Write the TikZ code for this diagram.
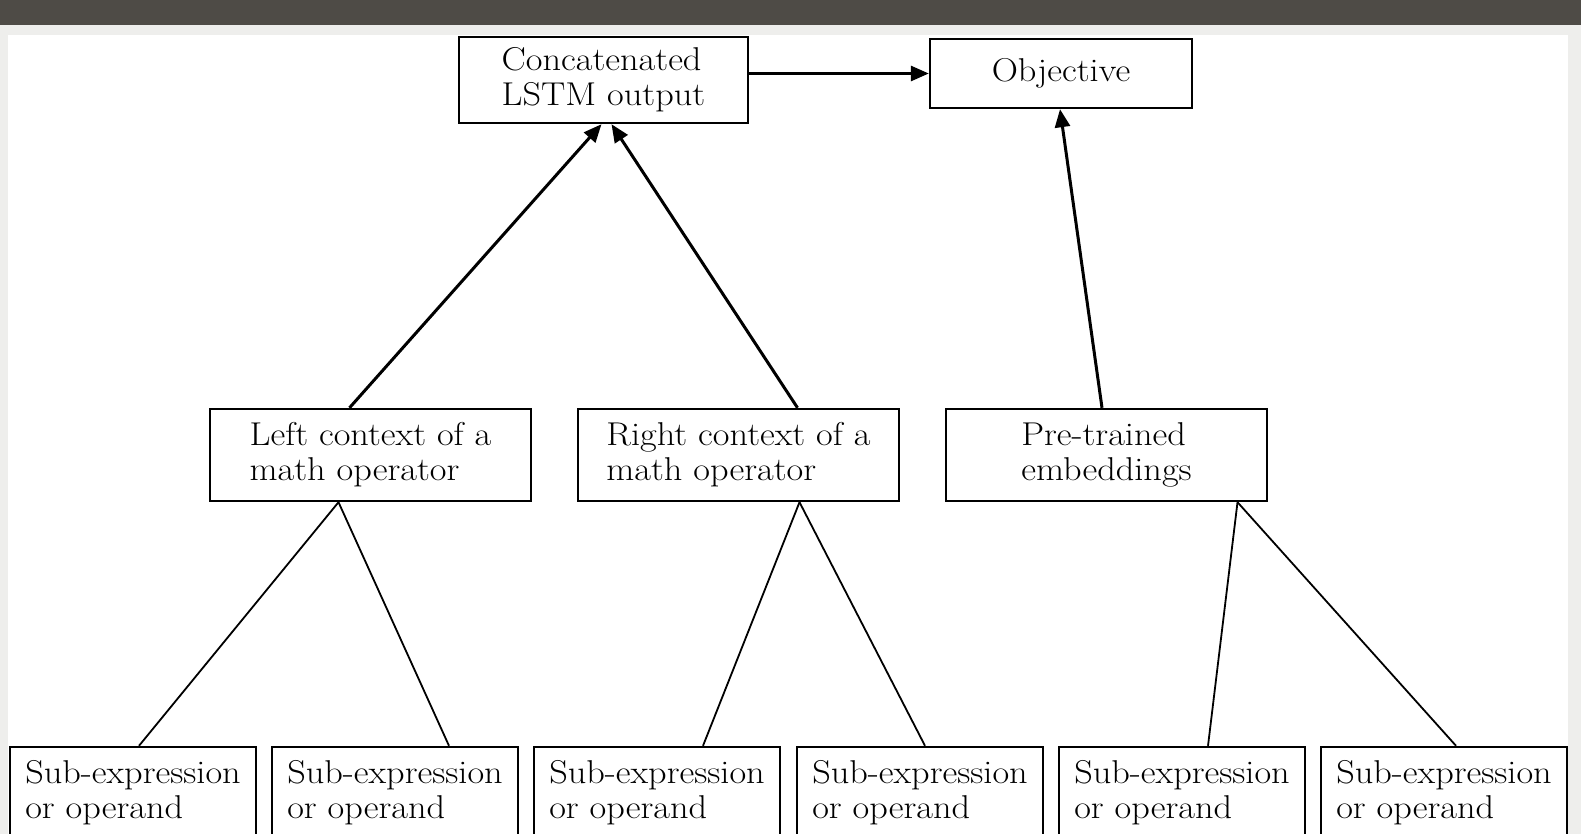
\documentclass[tikz,border=0pt]{standalone}
\usepackage{fontspec}
\setmainfont{Latin Modern Roman}[FakeStretch=1.1]
\usetikzlibrary{arrows.meta,calc}
\definecolor{bargray}{RGB}{78,75,70}
\definecolor{framegray}{RGB}{238,238,236}

\begin{document}
\begin{tikzpicture}[x=1pt,y=-1pt,
 box/.style={draw,line width=2.4pt,fill=white,align=left,inner sep=0pt,
   font=\fontsize{33}{35}\selectfont},
 arr/.style={line width=3pt,-{Triangle[length=18pt,width=15pt]}},
 link/.style={line width=1.8pt}]
 \useasboundingbox (0,0) rectangle (1581,834);
 \clip (0,0) rectangle (1581,834);
 % window around the page
 \fill[framegray] (0,0) rectangle (1581,834);
 \fill[bargray] (0,0) rectangle (1581,25);
 \fill[white] (8,35) rectangle (1568,834);
 % boxes
 \node[box,minimum width=289pt,minimum height=86pt] (cat) at (603.5,80) {Concatenated\\LSTM output};
 \node[box,minimum width=262pt,minimum height=69pt] (obj) at (1061,73.5) {Objective};
 \node[box,minimum width=321pt,minimum height=92pt] (lctx) at (370.5,455) {Left context of a\\math operator};
 \node[box,minimum width=321pt,minimum height=92pt] (rctx) at (738.5,455) {Right context of a\\math operator};
 \node[box,minimum width=321pt,minimum height=92pt] (emb) at (1106.5,455) {Pre-trained\\embeddings};
 \foreach \x [count=\i] in {133,395,657,920,1182,1444}
  \node[box,minimum width=246pt,minimum height=92pt] (sub\i) at (\x,793) {Sub-expression\\or operand};
 % arrows up
 \draw[arr] ([xshift=-21pt]lctx.north) -- ([xshift=-2pt]cat.south);
 \draw[arr] ([xshift=59pt]rctx.north) -- ([xshift=8pt]cat.south);
 \draw[arr] ([xshift=-4.5pt]emb.north) -- ([xshift=-1pt]obj.south);
 \draw[arr] (cat.east |- obj) -- (obj.west);
 % tree lines
 \draw[link] ([xshift=-32pt]lctx.south) -- ([xshift=6pt]sub1.north);
 \draw[link] ([xshift=-32pt]lctx.south) -- ([xshift=54pt]sub2.north);
 \draw[link] ([xshift=61pt]rctx.south) -- ([xshift=46pt]sub3.north);
 \draw[link] ([xshift=61pt]rctx.south) -- ([xshift=5pt]sub4.north);
 \draw[link] ([xshift=131pt]emb.south) -- ([xshift=26pt]sub5.north);
 \draw[link] ([xshift=131pt]emb.south) -- ([xshift=12pt]sub6.north);
\end{tikzpicture}
\end{document}
